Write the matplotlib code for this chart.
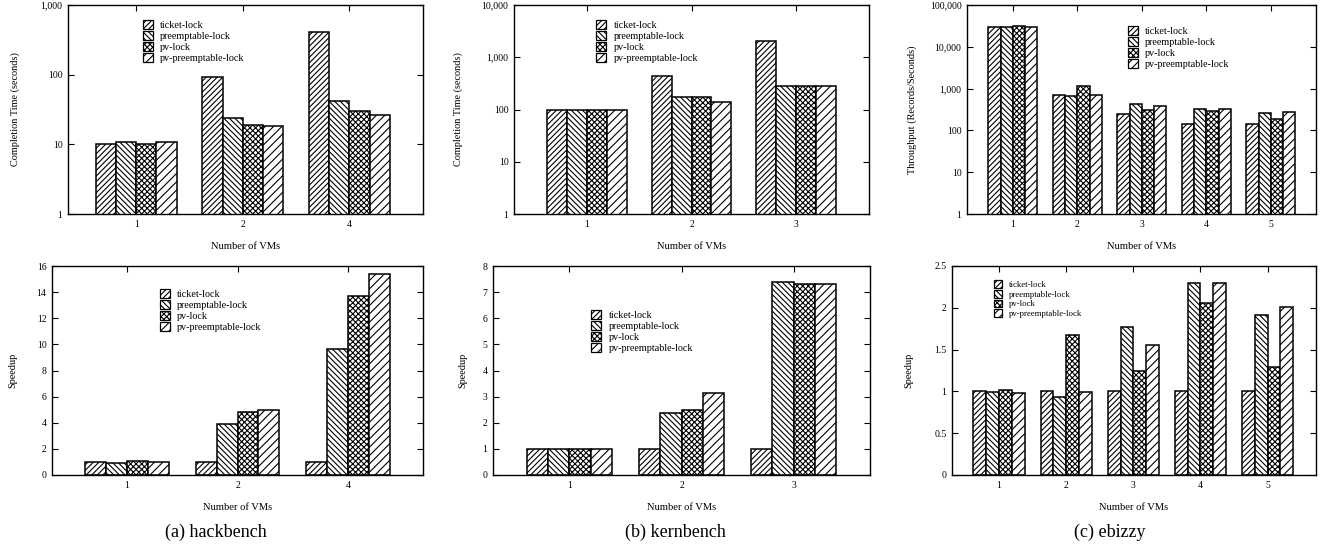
import numpy as np
import matplotlib
matplotlib.use('Agg')
import matplotlib.pyplot as plt
from matplotlib.ticker import FuncFormatter

plt.rcParams['font.family'] = ['Liberation Serif', 'DejaVu Serif']
plt.rcParams['hatch.linewidth'] = 0.8
plt.rcParams['font.size'] = 7

locks = ['ticket-lock', 'preemptable-lock', 'pv-lock', 'pv-preemptable-lock']
hatches = ['//////', '\\\\\\\\\\\\', 'xxxxxx', '////']

# hackbench
hack_vms = ['1', '2', '4']
hack_time = {
    'ticket-lock': [10.2, 91.6, 410],
    'preemptable-lock': [10.7, 23.6, 42.4],
    'pv-lock': [10.0, 18.7, 29.8],
    'pv-preemptable-lock': [10.8, 18.3, 26.4],
}
hack_speedup = {
    'ticket-lock': [1.0, 1.0, 1.0],
    'preemptable-lock': [0.95, 3.92, 9.67],
    'pv-lock': [1.05, 4.81, 13.7],
    'pv-preemptable-lock': [0.97, 4.99, 15.4],
}

# kernbench
kern_vms = ['1', '2', '3']
kern_time = {
    'ticket-lock': [98, 433, 2080],
    'preemptable-lock': [98, 177, 283],
    'pv-lock': [98, 172, 285],
    'pv-preemptable-lock': [99, 138, 285],
}
kern_speedup = {
    'ticket-lock': [1.0, 1.0, 1.0],
    'preemptable-lock': [1.0, 2.38, 7.37],
    'pv-lock': [0.99, 2.48, 7.32],
    'pv-preemptable-lock': [0.98, 3.12, 7.33],
}

# ebizzy
ebizzy_vms = ['1', '2', '3', '4', '5']
ebizzy_tput = {
    'ticket-lock': [29300, 708, 249, 141, 140],
    'preemptable-lock': [29300, 650, 440, 334, 268],
    'pv-lock': [31000, 1180, 305, 294, 186],
    'pv-preemptable-lock': [29300, 721, 387, 334, 283],
}
ebizzy_speedup = {
    'ticket-lock': [1.0, 1.0, 1.0, 1.0, 1.0],
    'preemptable-lock': [0.99, 0.93, 1.77, 2.30, 1.91],
    'pv-lock': [1.02, 1.67, 1.25, 2.06, 1.29],
    'pv-preemptable-lock': [0.98, 0.99, 1.56, 2.30, 2.01],
}

W, H = 1321, 548
fig = plt.figure(figsize=(W / 100, H / 100), dpi=100)


def px_axes(l, t, r, b):
    return fig.add_axes([l / W, 1 - b / H, (r - l) / W, (b - t) / H])


def comma(v, pos):
    return '{:,.0f}'.format(v)


def draw(ax, vms, data, ylabel, log, ylim, yticks, legpos, ylab_x, xlim, legsize=7.3):
    x = np.arange(len(vms))
    w = 0.19
    for i, lk in enumerate(locks):
        ax.bar(x + (i - 1.5) * w, data[lk], w, label=lk, color='white',
               edgecolor='black', linewidth=1.1, hatch=hatches[i])
    if log:
        ax.set_yscale('log')
        ax.minorticks_off()
    ax.set_ylim(ylim)
    ax.set_yticks(yticks)
    if log:
        ax.yaxis.set_major_formatter(FuncFormatter(comma))
    else:
        ax.set_yticklabels(['{:g}'.format(t) for t in yticks])
    ax.set_xlim(xlim)
    ax.set_xticks(x)
    ax.set_xticklabels(vms)
    ax.tick_params(direction='in', top=True, right=True, length=4,
                   width=0.8, labelsize=7, pad=4)
    for s in ax.spines.values():
        s.set_linewidth(1.0)
    ax.set_xlabel('Number of VMs', fontsize=7.6, labelpad=10)
    ax.set_ylabel(ylabel, fontsize=7.4)
    ax.yaxis.set_label_coords(ylab_x, 0.5)
    leg = ax.legend(loc='upper left', bbox_to_anchor=legpos, frameon=False,
                    fontsize=legsize, handlelength=1.0, handleheight=1.0,
                    handletextpad=0.7, labelspacing=0.1, borderaxespad=0)
    for p in leg.get_patches():
        p.set_linewidth(0.9)


ax1 = px_axes(68, 5, 423, 214)
draw(ax1, hack_vms, hack_time, 'Completion Time (seconds)', True, (1, 1000),
     [1, 10, 100, 1000], (0.20, 0.95), -0.135, (-0.64, 2.69))
ax2 = px_axes(514, 5, 869, 214)
draw(ax2, kern_vms, kern_time, 'Completion Time (seconds)', True, (1, 10000),
     [1, 10, 100, 1000, 10000], (0.22, 0.95), -0.144, (-0.70, 2.70))
ax3 = px_axes(967, 5, 1316, 214)
draw(ax3, ebizzy_vms, ebizzy_tput, 'Throughput (Records/Seconds)', True,
     (1, 100000), [1, 10, 100, 1000, 10000, 100000], (0.45, 0.92), -0.143,
     (-0.71, 4.70))
ax4 = px_axes(52, 266, 423, 475)
draw(ax4, hack_vms, hack_speedup, 'Speedup', False, (0, 16),
     list(range(0, 17, 2)), (0.28, 0.91), -0.092, (-0.68, 2.68))
ax5 = px_axes(493, 266, 870, 475)
draw(ax5, kern_vms, kern_speedup, 'Speedup', False, (0, 8),
     list(range(0, 9)), (0.25, 0.81), -0.069, (-0.68, 2.68))
ax6 = px_axes(952, 266, 1316, 475)
draw(ax6, ebizzy_vms, ebizzy_speedup, 'Speedup', False, (0, 2.5),
     [0, 0.5, 1, 1.5, 2, 2.5], (0.105, 0.95), -0.107, (-0.70, 4.72), legsize=6.3)

fig.text(216 / W, 1 - 532 / H, '(a) hackbench', ha='center', va='center', fontsize=13)
fig.text(675 / W, 1 - 532 / H, '(b) kernbench', ha='center', va='center', fontsize=13)
fig.text(1110 / W, 1 - 532 / H, '(c) ebizzy', ha='center', va='center', fontsize=13)

fig.savefig('out.png', dpi=100)
